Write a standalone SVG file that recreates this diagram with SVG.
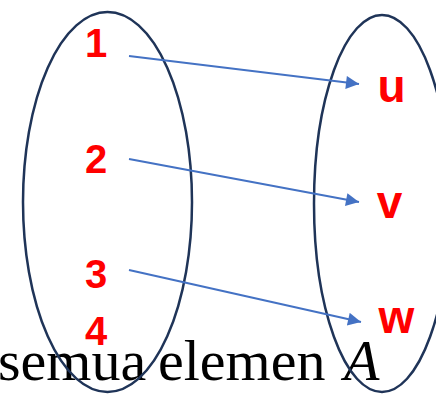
<svg xmlns="http://www.w3.org/2000/svg" width="436" height="395" viewBox="0 0 436 395">
<style>
.set{fill:none;stroke:#1F3458;stroke-width:2.5}
.lbl{font-family:"Liberation Sans",Arial,sans-serif;font-weight:bold;fill:#FF0000}
.num{font-size:40px}
.let{font-size:46px}
.cap{font-family:"Liberation Serif","Times New Roman",serif;font-size:58px;fill:#000}
.conn line{stroke:#4472C4;stroke-width:2}
</style>
<defs>
<marker id="ah" viewBox="0 0 10 10" refX="10" refY="5" markerWidth="8" markerHeight="6.5" markerUnits="strokeWidth" orient="auto">
<path d="M0,0 L10,5 L0,10 z" fill="#4472C4"/>
</marker>
</defs>
<rect width="436" height="395" fill="#fff"/>
<text class="cap" y="380"><tspan x="-2">semua</tspan><tspan x="158">elemen</tspan><tspan x="344" font-style="italic">A</tspan></text>
<g id="setA">
<ellipse class="set" cx="107.5" cy="202" rx="84.5" ry="190"/>
</g>
<g id="setB">
<ellipse class="set" cx="382" cy="203.5" rx="68" ry="188.5"/>
</g>
<g id="n1"><text class="lbl num" x="96" y="57" text-anchor="middle">1</text></g>
<g id="n2"><text class="lbl num" x="96" y="173" text-anchor="middle">2</text></g>
<g id="n3"><text class="lbl num" x="96" y="288" text-anchor="middle">3</text></g>
<g id="n4"><text class="lbl num" x="96" y="345" text-anchor="middle">4</text></g>
<g id="nu"><text class="lbl let" x="391.5" y="102" text-anchor="middle">u</text></g>
<g id="nv"><text class="lbl let" x="389.5" y="218" text-anchor="middle">v</text></g>
<g id="nw"><text class="lbl let" x="396.5" y="333" text-anchor="middle">w</text></g>
<g class="conn" id="connectors">
<line x1="129" y1="56" x2="359" y2="84" marker-end="url(#ah)"/>
<line x1="129" y1="159" x2="359" y2="202" marker-end="url(#ah)"/>
<line x1="129" y1="270" x2="361" y2="322" marker-end="url(#ah)"/>
</g>
</svg>
